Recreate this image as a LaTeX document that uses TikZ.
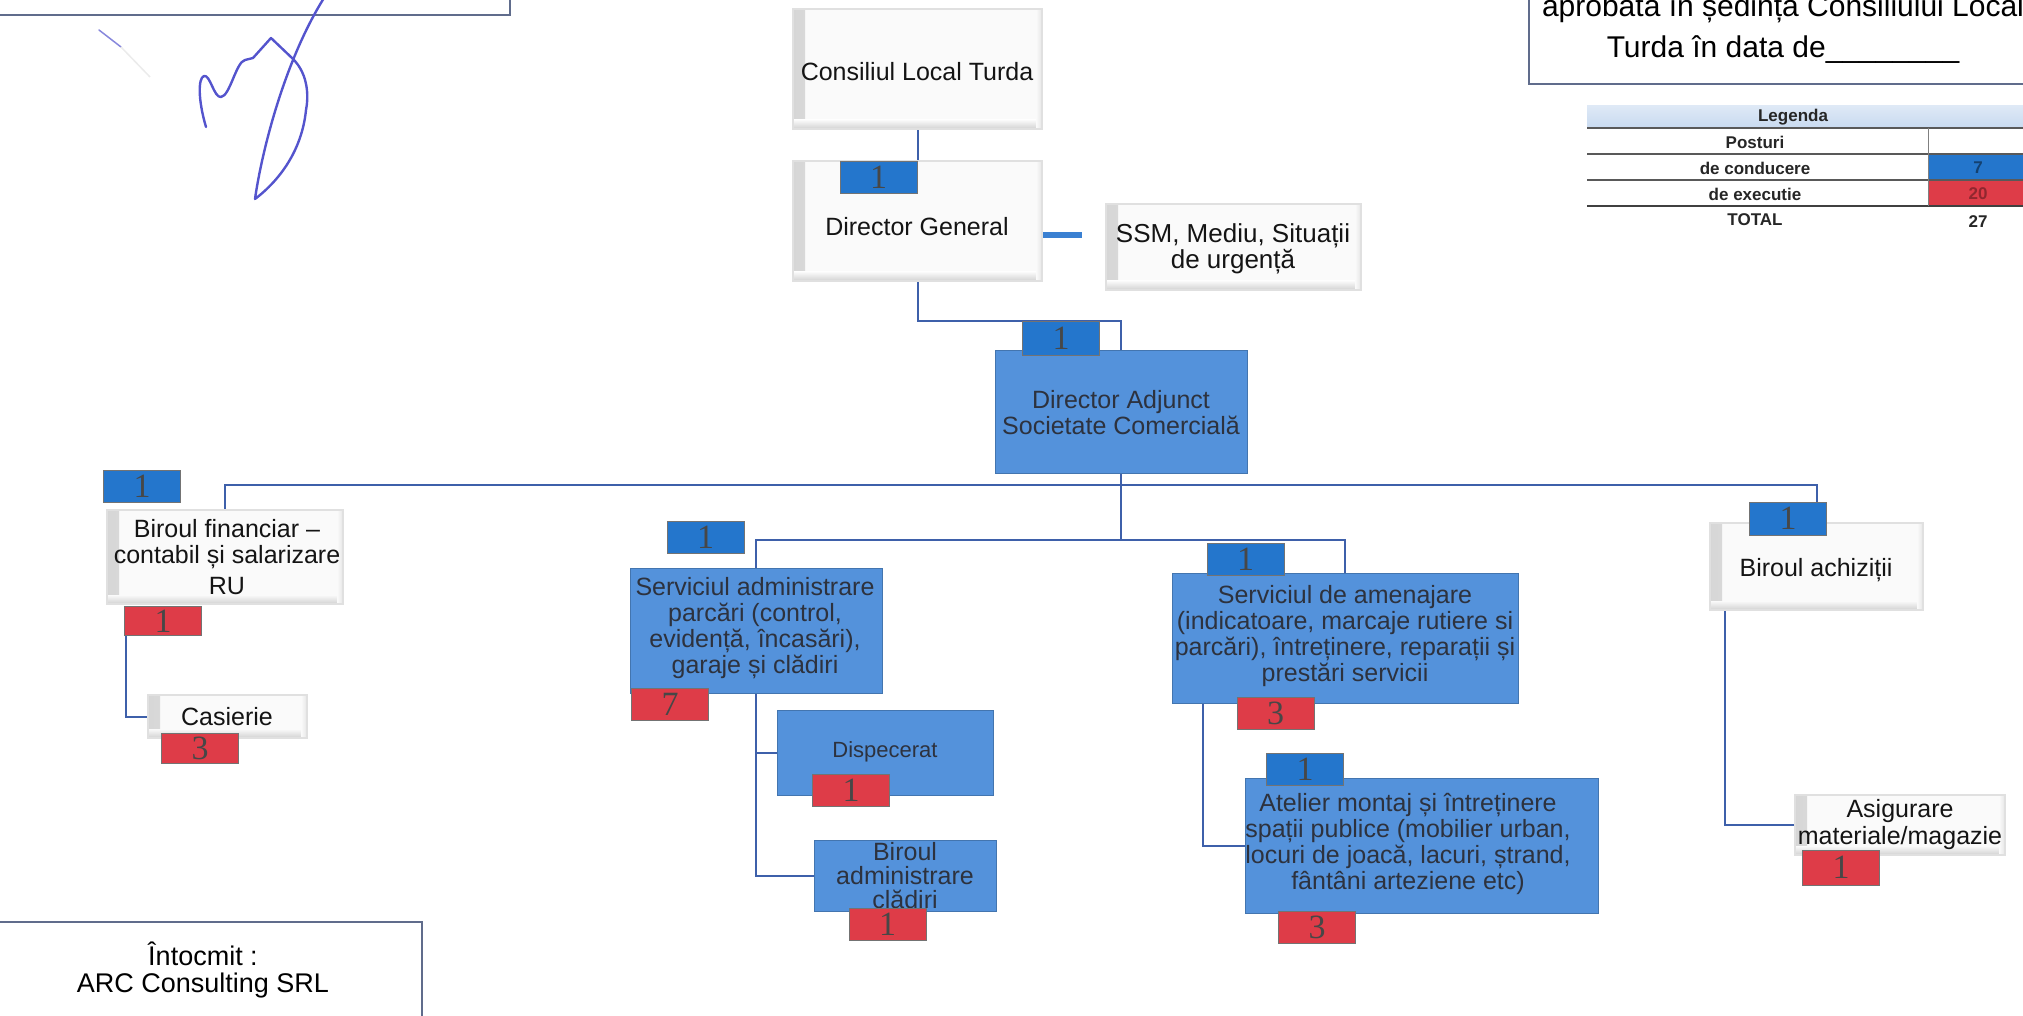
\documentclass[tikz,border=0pt]{standalone}
\usepackage{fontspec}
\setmainfont{Liberation Sans}
\newfontfamily\digitfont{Liberation Serif}
\usetikzlibrary{calc}
\definecolor{boxblue}{RGB}{84,146,219}
\definecolor{badgeblue}{RGB}{36,118,204}
\definecolor{badgered}{RGB}{222,60,72}
\definecolor{linkblue}{RGB}{62,96,170}
\definecolor{stubblue}{RGB}{58,128,210}
\definecolor{txtdark}{RGB}{45,50,62}
\definecolor{framecol}{RGB}{96,108,140}
\definecolor{inkblue}{RGB}{84,84,205}
\definecolor{legendhead}{RGB}{200,218,240}
\pgfdeclarelayer{bg}
\pgfsetlayers{bg,main}
\tikzset{
  whitebox/.style={fill=black!2, draw=black!12, line width=1.2pt, inner sep=0pt,
    path picture={
      \path[left color=black!16, right color=black!2] (path picture bounding box.south west) rectangle ([xshift=12pt]path picture bounding box.north west);
      \path[top color=black!2, bottom color=black!18] ([yshift=9pt]path picture bounding box.south west) rectangle (path picture bounding box.south east);
      \path[right color=black!10, left color=black!2] ([xshift=-6pt]path picture bounding box.south east) rectangle (path picture bounding box.north east);
    }},
  bluebox/.style={fill=boxblue, draw=boxblue!80!black, line width=1pt, inner sep=0pt},
  bbadge/.style={fill=badgeblue, draw=black!55, line width=1pt, minimum width=77pt, minimum height=32pt, inner sep=0pt, font=\digitfont\fontsize{34}{34}\selectfont, text=black!72},
  rbadge/.style={bbadge, fill=badgered},
  link/.style={draw=linkblue, line width=2pt},
  docframe/.style={draw=framecol, line width=1.5pt, inner sep=0pt},
  wtxt/.style={align=center, inner sep=0pt, text=black!92, font=\fontsize{25}{26.5}\selectfont},
  btxt/.style={align=center, inner sep=0pt, text=txtdark, font=\fontsize{25}{26}\selectfont},
  legtxt/.style={inner sep=0pt, text=black!85, font=\bfseries\fontsize{17}{17}\selectfont},
}
\begin{document}
\begin{tikzpicture}[x=1pt,y=-1pt]
\useasboundingbox (0,0) rectangle (2023,1016);
\clip (0,0) rectangle (2023,1016);

% frames at the page edges
\node[docframe, minimum width=516pt, minimum height=60pt] (tlframe) at (252,-15) {};
\node[docframe, minimum width=510pt, minimum height=120pt] (trframe) at (1784,24) {};
\node[anchor=base, inner sep=0pt, font=\fontsize{30}{30}\selectfont] (tr1) at (1783,17) {aprobata în ședința Consiliului Local};
\node[anchor=base, inner sep=0pt, font=\fontsize{30}{30}\selectfont] (tr2) at (1783,58) {Turda în data de\_\_\_\_\_\_\_\_};
\node[docframe, minimum width=440pt, minimum height=120pt] (intoc) at (202,982) {};
\node[align=center, inner sep=0pt, font=\fontsize{27}{27}\selectfont] (intocT) at (203,970) {Întocmit :\\ARC Consulting SRL};

% signature
\draw[inkblue, line width=2.4pt, line cap=round, line join=round]
  (206,127) .. controls (198,100) and (198,78) .. (204,76)
  .. controls (210,74) and (214,98) .. (221,97)
  .. controls (230,96) and (236,62) .. (245,60)
  -- (253,58) -- (271,38) -- (292,58)
  .. controls (310,75) and (308,100) .. (306,110)
  .. controls (302,150) and (280,180) .. (255,199)
  .. controls (262,150) and (285,60) .. (324,-2);
\draw[inkblue!70, line width=1.5pt, line cap=round] (99,30) -- (121,47);
\draw[black!8, line width=1.5pt] (121,47) -- (150,77);

% legend
\fill[top color=legendhead!60!white, bottom color=legendhead] (1587,106) rectangle (2023,128);
\fill[badgeblue] (1928,155) rectangle (2023,180);
\fill[badgered] (1928,181) rectangle (2023,206);
\draw[black!65, line width=1.5pt] (1587,128) -- (2023,128);
\draw[black!65, line width=1.2pt] (1587,154) -- (2023,154);
\draw[black!65, line width=1.2pt] (1587,180) -- (2023,180);
\draw[black!75, line width=2.5pt] (1587,206) -- (2023,206);
\draw[black!50, line width=1pt] (1928,128) -- (1928,206);
\node[legtxt] (lg0) at (1793,117) {Legenda};
\node[legtxt] (lg1) at (1755,142) {Posturi};
\node[legtxt] (lg2) at (1755,168) {de conducere};
\node[legtxt] (lg3) at (1755,194) {de executie};
\node[legtxt] (lg4) at (1755,220) {TOTAL};
\node[legtxt, text=badgeblue!55!black] (lv1) at (1978,168) {7};
\node[legtxt, text=badgered!65!black] (lv2) at (1978,194) {20};
\node[legtxt] (lv3) at (1978,222) {27};

% top levels
\node[whitebox, minimum width=249pt, minimum height=120pt] (cl) at (917.5,69) {};
\node[wtxt] (clT) at (917,72) {Consiliul Local Turda};
\node[whitebox, minimum width=249pt, minimum height=120pt] (dg) at (917.5,221) {};
\node[wtxt] (dgT) at (917,227) {Director General};
\node[bbadge] (dgb) at (878.5,177.5) {1};
\node[whitebox, minimum width=255pt, minimum height=86pt] (ssm) at (1233.5,247) {};
\node[wtxt, font=\fontsize{26}{26}\selectfont] (ssmT) at (1233,249) {SSM, Mediu, Situații\\de urgență};
\coordinate (ssmstub) at (1082,235);

\node[bluebox, minimum width=252pt, minimum height=123pt] (da) at (1121,411.5) {};
\node[btxt] (daT) at (1121,413) {Director Adjunct\\Societate Comercială};
\node[bbadge, minimum height=34pt] (dab) at (1061,338) {1};
\coordinate (bus) at (1121,485);

% left branch
\node[whitebox, minimum width=236pt, minimum height=94pt] (fin) at (225,557) {};
\node[wtxt] (finT) at (227,557) {Biroul financiar –\\contabil și salarizare\\[4pt]RU};
\node[bbadge] (finb) at (142,486.5) {1};
\node[rbadge, minimum height=29pt] (finr) at (163,621) {1};
\node[whitebox, minimum width=159pt, minimum height=43pt] (cas) at (227.5,716.5) {};
\node[wtxt] (casT) at (227,717) {Casierie};
\node[rbadge, minimum height=30pt] (casr) at (200,748) {3};

% parking service
\node[bluebox, minimum width=252pt, minimum height=125pt] (sa) at (756,630.5) {};
\node[btxt] (saT) at (755,628) {Serviciul administrare\\parcări (control,\\evidență, încasări),\\garaje și clădiri};
\node[bbadge] (sab) at (705.5,537) {1};
\node[rbadge] (sar) at (670,704) {7};
\node[bluebox, minimum width=216pt, minimum height=85pt] (dis) at (885,752.5) {};
\node[btxt, font=\fontsize{22}{22}\selectfont] (disT) at (885,752) {Dispecerat};
\node[rbadge] (disr) at (851,790) {1};
\node[bluebox, minimum width=182pt, minimum height=71pt] (bad) at (905,875.5) {};
\node[btxt, font=\fontsize{25}{24}\selectfont] (badT) at (905,876) {Biroul\\administrare\\clădiri};
\node[rbadge] (badr) at (887.5,924.5) {1};

% maintenance service
\node[bluebox, minimum width=346pt, minimum height=130pt] (sam) at (1345,638) {};
\node[btxt] (samT) at (1345,636) {Serviciul de amenajare\\(indicatoare, marcaje rutiere si\\parcări), întreținere, reparații și\\prestări servicii};
\node[bbadge] (samb) at (1245.5,559) {1};
\node[rbadge] (samr) at (1275.5,713.5) {3};
\node[bluebox, minimum width=353pt, minimum height=135pt] (ate) at (1421.5,845.5) {};
\node[btxt] (ateT) at (1408,844) {Atelier montaj și întreținere\\spații publice (mobilier urban,\\locuri de joacă, lacuri, ștrand,\\fântâni arteziene etc)};
\node[bbadge] (ateb) at (1305,769) {1};
\node[rbadge] (ater) at (1317,927.5) {3};

% procurement
\node[whitebox, minimum width=213pt, minimum height=87pt] (ach) at (1816.5,566.5) {};
\node[wtxt] (achT) at (1816,570) {Biroul achiziții};
\node[bbadge, minimum height=33pt] (achb) at (1788,518.5) {1};
\node[whitebox, minimum width=210pt, minimum height=60pt] (asg) at (1900,825) {};
\node[wtxt, font=\fontsize{25}{27}\selectfont] (asgT) at (1900,825) {Asigurare\\materiale/magazie};
\node[rbadge, minimum height=35pt] (asgr) at (1841,867.5) {1};

% connectors
\begin{pgfonlayer}{bg}
\draw[link] (cl.south) -- (cl.south |- dgb.north);
\draw[draw=stubblue, line width=6pt] (dg.east |- ssmstub) -- (ssmstub);
\draw[link] (dg.south) -- ++(0,39) -| (da.north);
\draw[link] (da.south) -- (bus);
\draw[link] (fin.north) |- (bus) -| (ach.north |- achb.north);
\draw[link] (bus) -- ++(0,55) coordinate (mid);
\draw[link] (sa.north) |- (mid) -| (sam.north);
\draw[link] ([xshift=2pt]finr.south west) |- (cas.west);
\draw[link] (sa.south) -- (sa.south |- bad.west) -- (bad.west);
\draw[link] (sa.south |- dis.west) -- (dis.west);
\draw[link] ([xshift=31pt]sam.south west) |- (ate.west);
\draw[link] ([xshift=16pt]ach.south west) |- (asg.west);
\end{pgfonlayer}
\end{tikzpicture}
\end{document}
